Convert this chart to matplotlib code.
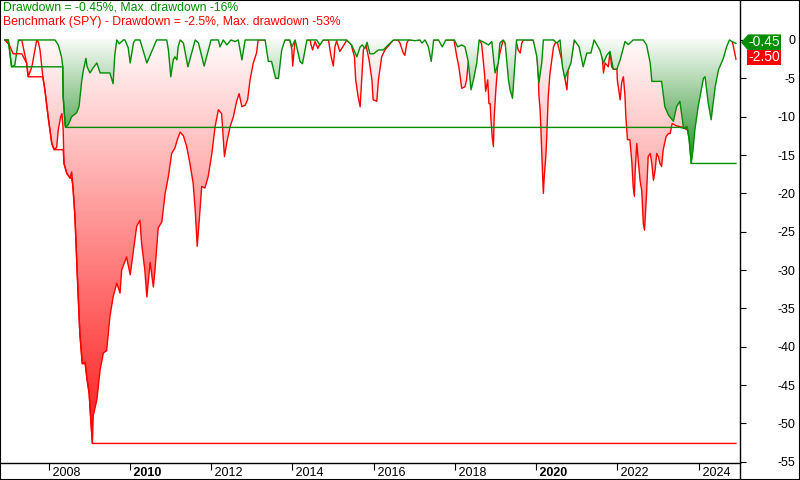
import numpy as np
import matplotlib
matplotlib.use('Agg')
import matplotlib.pyplot as plt
from matplotlib.patches import Polygon, Rectangle
from matplotlib.lines import Line2D

plt.rcParams['font.family'] = ['Liberation Sans', 'DejaVu Sans']

# strategy drawdown in %, time in decimal years
strat_t = [2006.93, 2007.01, 2007.09, 2007.17, 2007.26, 2008.16, 2008.24, 2008.32, 2008.35, 2008.36,
           2008.41, 2008.42, 2008.49, 2008.57, 2008.69, 2008.75, 2008.82, 2008.86, 2008.92, 2008.95,
           2009.02, 2009.09, 2009.19, 2009.27, 2009.51, 2009.59, 2009.63, 2009.68, 2009.74, 2009.84,
           2009.88, 2009.96, 2010.01, 2010.09, 2010.13, 2010.25, 2010.42, 2010.66, 2010.91, 2010.95,
           2011.01, 2011.07, 2011.11, 2011.16, 2011.19, 2011.24, 2011.32, 2011.43, 2011.61, 2011.69,
           2011.83, 2012.00, 2012.18, 2012.22, 2012.30, 2012.39, 2012.49, 2012.59, 2012.67, 2012.76,
           2012.84, 2013.33, 2013.41, 2013.49, 2013.59, 2013.66, 2013.74, 2013.82, 2013.94, 2013.99,
           2014.07, 2014.19, 2014.25, 2014.36, 2014.60, 2014.68, 2014.76, 2015.34, 2015.46, 2015.59,
           2015.67, 2015.72, 2015.79, 2015.84, 2015.91, 2016.00, 2016.12, 2016.24, 2016.36, 2016.49,
           2016.90, 2017.02, 2017.14, 2017.19, 2017.27, 2017.35, 2017.42, 2017.48, 2017.60, 2017.69,
           2017.78, 2017.99, 2018.07, 2018.17, 2018.25, 2018.33, 2018.40, 2018.46, 2018.54, 2018.60,
           2018.75, 2018.83, 2018.91, 2018.99, 2019.07, 2019.11, 2019.19, 2019.24, 2019.32, 2019.36,
           2019.42, 2019.48, 2019.52, 2019.93, 2020.02, 2020.07, 2020.14, 2020.18, 2020.43, 2020.51,
           2020.59, 2020.65, 2020.71, 2020.76, 2020.86, 2020.94, 2021.06, 2021.16, 2021.25, 2021.35,
           2021.43, 2021.57, 2021.66, 2021.74, 2021.82, 2021.90, 2021.99, 2022.07, 2022.19, 2022.27,
           2022.39, 2022.64, 2022.72, 2022.81, 2022.85, 2023.09, 2023.17, 2023.26, 2023.38, 2023.46,
           2023.54, 2023.63, 2023.72, 2023.77, 2023.82, 2023.86, 2023.91, 2023.99, 2024.12, 2024.16,
           2024.24, 2024.31, 2024.41, 2024.49, 2024.61, 2024.69, 2024.76, 2024.82, 2024.92]
strat_dd = [0, 0, -3.5, -3.3, 0, 0, -0.65, -2.2, -3.5, -7.4,
            -11.1, -11.4, -11.0, -10.0, -9.5, -8.7, -5.2, -3.9, -2.4, -3.5,
            -4.3, -3.7, -3.0, -4.3, -4.3, -5.7, -2.0, 0, -0.5, 0,
            0, -1.0, -3.0, -0.4, 0, 0, -3.0, 0, 0, -1.3,
            -4.8, -2.6, -2.2, -2.6, -0.9, 0, -0.4, -3.5, 0, -0.4,
            -3.4, 0, 0, -0.9, 0, -0.65, 0, -0.2, 0, -2.6,
            0, 0, -2.8, -2.8, -5.0, -5.0, -1.3, 0, 0, -0.9,
            0, -2.8, -3.1, 0, 0, -0.65, 0, 0, -0.65, -2.2,
            -0.9, -0.65, -1.1, -0.3, -1.8, -1.8, -1.3, -1.3, -0.65, 0,
            0, -0.1, 0, -0.4, 0, -0.9, -2.8, 0, 0, -0.9,
            0, 0, -0.9, -0.65, -0.9, -2.8, -6.5, -5.2, -3.0, 0,
            -0.4, -0.65, -0.2, -4.3, -3.0, -0.4, 0, -0.4, -5.2, -6.5,
            -7.6, -3.0, 0, 0, -2.2, -5.6, -3.0, 0, 0, -0.4,
            0, -3.5, -5.0, -4.3, -3.0, 0, -0.9, -3.5, -1.7, -1.7,
            0, -1.3, -3.0, -2.0, -1.5, -3.8, -3.8, -2.6, -0.2, -0.6,
            0, 0, -0.65, -3.0, -5.4, -5.4, -8.7, -9.8, -10.6, -8.7,
            -8.0, -11.5, -11.3, -13.0, -16.1, -14.5, -11.7, -8.7, -5.0, -4.8,
            -8.3, -10.4, -6.1, -3.9, -2.4, -0.9, 0, -0.2, -0.45]

# benchmark (SPY) drawdown in %
spy_t = [2006.93, 2007.03, 2007.13, 2007.22, 2007.30, 2007.34, 2007.46, 2007.50, 2007.59, 2007.71,
         2007.75, 2007.79, 2007.86, 2007.91, 2007.99, 2008.08, 2008.14, 2008.20, 2008.24, 2008.30,
         2008.33, 2008.36, 2008.38, 2008.45, 2008.53, 2008.57, 2008.60, 2008.65, 2008.71, 2008.77,
         2008.83, 2008.90, 2008.95, 2009.00, 2009.04, 2009.08, 2009.10, 2009.19, 2009.27, 2009.35,
         2009.43, 2009.51, 2009.59, 2009.68, 2009.76, 2009.80, 2009.92, 2010.01, 2010.09, 2010.17,
         2010.25, 2010.29, 2010.37, 2010.42, 2010.50, 2010.58, 2010.62, 2010.70, 2010.79, 2010.87,
         2010.95, 2011.03, 2011.11, 2011.17, 2011.24, 2011.32, 2011.40, 2011.48, 2011.56, 2011.61,
         2011.66, 2011.71, 2011.77, 2011.85, 2011.93, 2012.02, 2012.10, 2012.18, 2012.26, 2012.33,
         2012.39, 2012.47, 2012.55, 2012.63, 2012.69, 2012.76, 2012.84, 2012.90, 2012.96, 2013.04,
         2013.12, 2013.16, 2013.94, 2013.99, 2014.01, 2014.07, 2014.44, 2014.46, 2014.50, 2014.56,
         2014.63, 2014.71, 2014.78, 2014.89, 2014.95, 2015.01, 2015.05, 2015.09, 2015.17, 2015.30,
         2015.34, 2015.45, 2015.53, 2015.56, 2015.62, 2015.67, 2015.72, 2015.75, 2015.81, 2015.89,
         2015.96, 2015.99, 2016.08, 2016.12, 2016.20, 2016.28, 2016.49, 2016.60, 2016.65, 2016.73,
         2016.77, 2016.82, 2016.86, 2017.98, 2018.05, 2018.10, 2018.17, 2018.25, 2018.29, 2018.33,
         2018.42, 2018.52, 2018.60, 2018.66, 2018.73, 2018.76, 2018.81, 2018.84, 2018.87, 2018.89,
         2018.92, 2018.95, 2018.97, 2019.01, 2019.06, 2019.11, 2019.19, 2019.24, 2019.26, 2019.36,
         2019.46, 2019.52, 2019.56, 2019.61, 2019.65, 2019.69, 2019.93, 2020.02, 2020.06, 2020.07,
         2020.10, 2020.12, 2020.15, 2020.18, 2020.20, 2020.24, 2020.26, 2020.30, 2020.34, 2020.43,
         2020.51, 2020.65, 2020.71, 2020.76, 2020.79, 2020.86, 2020.94, 2021.06, 2021.16, 2021.26,
         2021.35, 2021.43, 2021.57, 2021.62, 2021.66, 2021.70, 2021.78, 2021.82, 2021.86, 2021.90,
         2021.99, 2022.00, 2022.07, 2022.11, 2022.15, 2022.19, 2022.21, 2022.25, 2022.31, 2022.36,
         2022.39, 2022.42, 2022.44, 2022.48, 2022.52, 2022.56, 2022.60, 2022.64, 2022.67, 2022.70,
         2022.72, 2022.76, 2022.81, 2022.85, 2022.89, 2022.93, 2022.97, 2023.01, 2023.05, 2023.09,
         2023.13, 2023.20, 2023.26, 2023.30, 2023.35, 2023.45, 2023.54, 2023.62, 2023.71, 2023.74,
         2023.84, 2023.99, 2024.11, 2024.23, 2024.31, 2024.41, 2024.53, 2024.65, 2024.73, 2024.82,
         2024.86, 2024.92]
spy_dd = [0, -0.6, -1.8, -0.3, 0, 0, -3.0, -4.8, -3.5, 0,
          -0.3, -1.3, -4.8, -6.5, -10.0, -13.5, -14.3, -14.0, -11.7, -10.0,
          -9.6, -11.7, -16.1, -17.4, -18.0, -17.2, -19.1, -23.0, -30.9, -38.2,
          -42.2, -42.0, -44.3, -46.1, -49.5, -52.6, -49.0, -46.9, -43.0, -40.8,
          -40.5, -36.1, -33.5, -31.7, -33.0, -30.0, -28.3, -30.6, -27.5, -24.3,
          -23.5, -26.5, -30.0, -33.5, -29.0, -32.2, -30.0, -24.5, -23.7, -20.0,
          -17.8, -14.8, -14.1, -13.0, -12.0, -12.5, -13.9, -16.1, -18.7, -22.2,
          -26.9, -23.5, -19.1, -19.3, -17.8, -14.8, -11.3, -9.1, -9.6, -15.2,
          -13.3, -11.3, -10.0, -8.0, -7.0, -8.7, -8.5, -7.8, -5.2, -3.0,
          -1.7, 0, 0, -1.3, -3.4, 0, 0, -0.6, -1.3, -0.2,
          -1.1, -0.2, 0, 0, -2.0, -3.4, -0.9, -0.1, -1.5, -0.4,
          0, -0.6, -2.2, -5.2, -7.4, -8.7, -4.0, -1.3, -0.6, -2.6,
          -5.2, -7.8, -8.0, -5.2, -2.2, -1.3, 0, 0, -0.4, -1.7,
          -2.0, -0.4, 0, 0, -2.2, -3.5, -6.3, -6.1, -5.2, -3.0,
          -2.0, -0.5, 0, -0.5, -4.3, -6.7, -5.2, -8.3, -8.3, -10.4,
          -12.6, -13.9, -10.0, -6.5, -3.0, -1.7, 0, -0.4, -1.0, -4.0,
          -1.0, -0.4, -1.3, -1.7, -0.4, 0, 0, -1.5, -5.2, -7.2,
          -9.1, -11.7, -16.1, -20.0, -18.0, -15.2, -13.0, -7.4, -4.5, -0.9,
          0, -3.0, -5.0, -6.5, -4.0, -2.5, 0, -0.5, -1.5, -0.8,
          -0.5, 0, -0.5, -1.7, -4.3, -3.0, -3.5, -1.5, -3.5, -3.8,
          -3.8, -5.2, -7.8, -5.5, -4.8, -7.4, -10.0, -13.0, -13.0, -16.1,
          -19.1, -20.4, -17.0, -13.5, -16.0, -18.3, -19.6, -23.9, -24.8, -22.0,
          -20.0, -15.2, -14.8, -16.1, -18.3, -17.0, -14.8, -15.2, -16.1, -16.5,
          -14.3, -12.6, -12.2, -12.2, -10.9, -11.2, -11.3, -11.4, -11.7, -11.0,
          -9.0, -6.0, -3.0, -4.5, -5.0, -2.5, -1.0, -0.3, 0, 0,
          -0.9, -2.5]

year_ticks = list(range(2008, 2025, 2))
bold_years = [2010, 2020]
y_ticks = list(range(0, -60, -5))

green = '#008c00'
red = '#ff0000'

W, H = 800, 480
fig = plt.figure(figsize=(8, 4.8), dpi=100)
ax = fig.add_axes([1 / W, 17 / H, 739 / W, 463 / H])
ax.set_facecolor('white')


def gradient_fill(t, dd, end_rgb, top, z):
    t = np.asarray(t, float)
    dd = np.asarray(dd, float)
    lo = dd.min()
    frac = np.linspace(0.02, 1.0, 256)[:, None]
    rows = (1 - frac) * np.ones(3) + frac * np.array(end_rgb)
    img = rows[:, None, :]
    im = ax.imshow(img, extent=[t[0], t[-1], lo, top], aspect='auto',
                   origin='upper', zorder=z, interpolation='bilinear')
    poly = ax.fill_between(t, dd, top, facecolor='none', edgecolor='none', zorder=z)
    im.set_clip_path(poly.get_paths()[0], transform=ax.transData)


# benchmark first, strategy fill covers it
gradient_fill(spy_t, spy_dd, (1.0, 0.1, 0.1), 0.0, 1)
ax.plot(spy_t, spy_dd, color=red, lw=1.0, zorder=2)
gradient_fill(strat_t, strat_dd, (0.14, 0.56, 0.14), 0.15, 3)
ax.plot(strat_t, strat_dd, color=green, lw=1.0, zorder=4)

# running max drawdown
ax.plot(spy_t, np.minimum.accumulate(spy_dd), color=red, lw=1.0, zorder=5)
ax.plot(strat_t, np.minimum.accumulate(strat_dd), color=green, lw=1.0, zorder=5)

ax.set_xlim(2006.83, 2025.02)
ax.set_ylim(-55.15, 5.21)

for s in ['left', 'top']:
    ax.spines[s].set_visible(False)
ax.spines['right'].set_linewidth(1)
ax.spines['bottom'].set_linewidth(1)

# x axis: ticks downward, labels to the right of tick
ax.set_xticks(year_ticks)
ax.set_xticklabels([' %d' % y for y in year_ticks], ha='left')
ax.tick_params(axis='x', direction='out', length=5, width=0.8, pad=-2, labelsize=9)
for lbl, y in zip(ax.get_xticklabels(), year_ticks):
    if y in bold_years:
        lbl.set_fontweight('bold')

# y axis on the right
ax.yaxis.tick_right()
ax.set_yticks(y_ticks)
ax.set_yticklabels([str(v) for v in y_ticks])
ax.tick_params(axis='y', direction='out', length=4, width=0.8, pad=36, labelsize=9)
for lbl in ax.get_yticklabels():
    lbl.set_horizontalalignment('right')

# legend text
fig.text(3 / W, 1 - 2 / H, 'Drawdown = -0.45%, Max. drawdown -16%', color=green,
         fontsize=8.8, va='top', ha='left')
fig.text(3 / W, 1 - 16 / H, 'Benchmark (SPY) - Drawdown = -2.5%, Max. drawdown -53%', color=red,
         fontsize=8.8, va='top', ha='left')

# last-value tags
fig.canvas.draw()
xs = ax.transAxes.transform((1, 0))[0]
yg = ax.transData.transform((0, strat_dd[-1]))[1] + 1
yr = yg - 15
tag_g = Polygon([(xs + 1, yg), (xs + 8, yg + 8), (xs + 41, yg + 8), (xs + 41, yg - 8), (xs + 8, yg - 8)],
                closed=True, facecolor=green, edgecolor='none', transform=None, zorder=10)
tag_r = Rectangle((xs + 7, yr - 7.5), 34, 15, facecolor=red, edgecolor='none', transform=None, zorder=10)
fig.patches.extend([tag_g, tag_r])
fig.text((xs + 24.5) / W, yg / H, '%.2f' % strat_dd[-1], color='white', fontsize=10,
         ha='center', va='center', zorder=11)
fig.text((xs + 24) / W, yr / H, '%.2f' % spy_dd[-1], color='white', fontsize=10,
         ha='center', va='center', zorder=11)

# right axis line down to the frame, and outer frame
fig.lines.append(Line2D([xs / W, xs / W], [0, 17 / H], color='black', lw=1, transform=fig.transFigure))
fig.patches.append(Rectangle((0, 0), 1, 1, transform=fig.transFigure, fill=False,
                             edgecolor='black', lw=1.5))

fig.savefig('out.png', dpi=100)
